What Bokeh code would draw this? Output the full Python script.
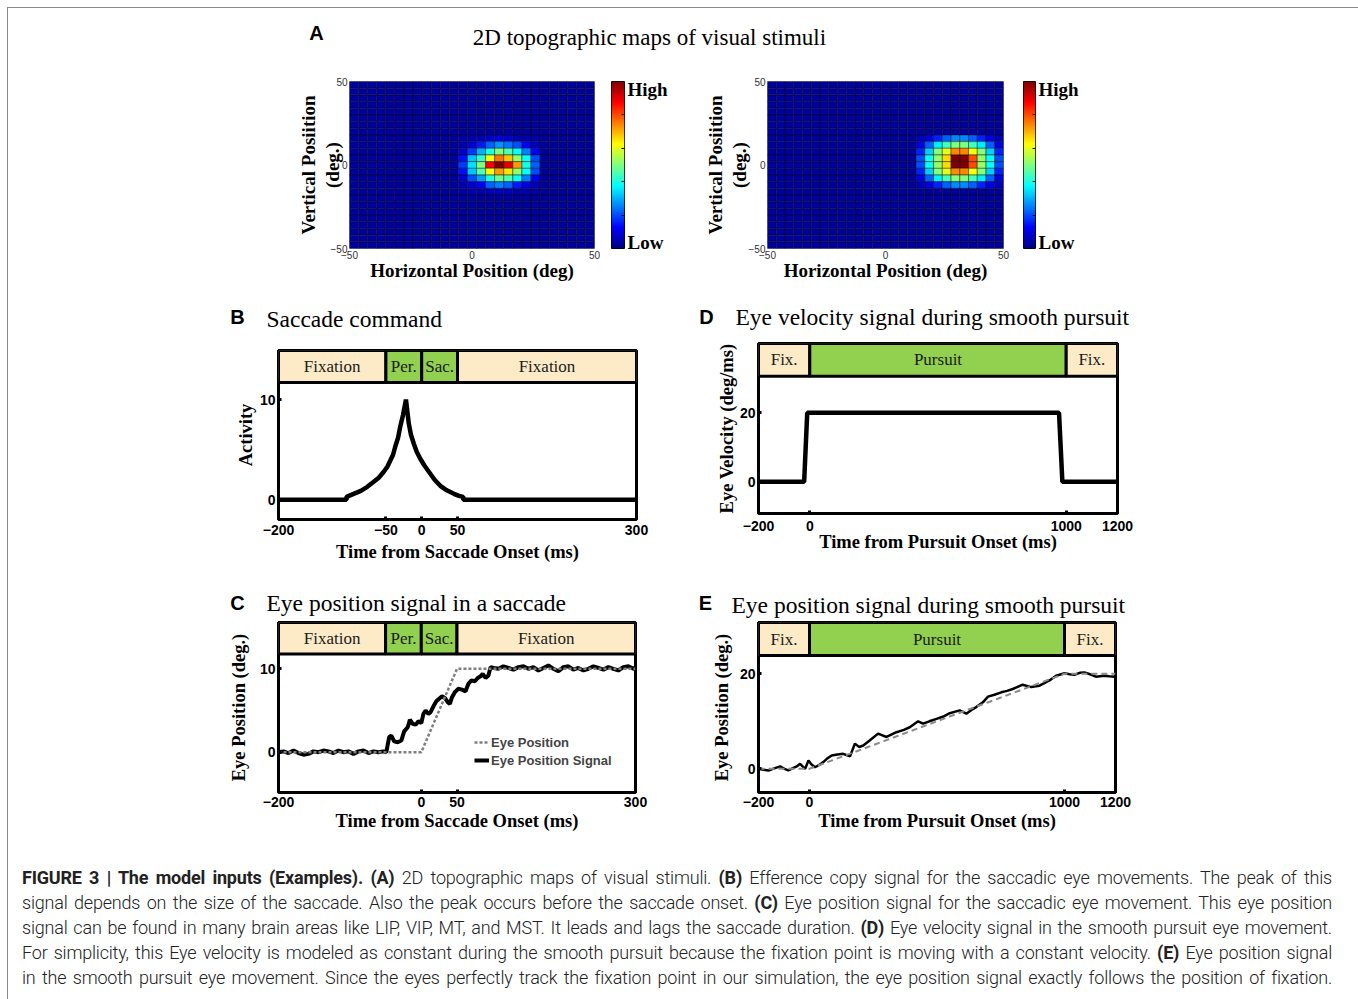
import numpy as np
from bokeh.plotting import figure
from bokeh.models import (Range1d, FixedTicker, Label, Legend, LegendItem,
                          LinearColorMapper, ColumnDataSource, Spacer, Div)
from bokeh.layouts import row, column
from bokeh.transform import transform
from bokeh.core.properties import value
from bokeh.embed import file_html
from bokeh.resources import INLINE

SERIF = "Liberation Serif"
SANS = "Liberation Sans"

# ---------------- data ----------------
map_cols = 27
map_rows = 25
map_background = 0.03
map_ticks = [-50, 0, 50]

left_blob = [
    [0.05, 0.05, 0.06, 0.08, 0.10, 0.08, 0.06, 0.05, 0.05],
    [0.05, 0.08, 0.15, 0.22, 0.27, 0.24, 0.20, 0.12, 0.06],
    [0.08, 0.18, 0.30, 0.40, 0.50, 0.45, 0.38, 0.25, 0.12],
    [0.14, 0.32, 0.42, 0.62, 0.76, 0.68, 0.52, 0.38, 0.20],
    [0.18, 0.35, 0.50, 0.88, 1.00, 0.90, 0.72, 0.40, 0.22],
    [0.14, 0.32, 0.45, 0.62, 0.72, 0.65, 0.52, 0.38, 0.20],
    [0.08, 0.20, 0.28, 0.40, 0.48, 0.45, 0.38, 0.25, 0.12],
    [0.05, 0.08, 0.12, 0.22, 0.25, 0.22, 0.15, 0.10, 0.06],
    [0.04, 0.05, 0.05, 0.06, 0.07, 0.06, 0.05, 0.05, 0.04],
]
left_blob_row0 = 8
left_blob_col0 = 12

right_blob = [
    [0.06, 0.10, 0.16, 0.22, 0.26, 0.26, 0.22, 0.16, 0.10, 0.06],
    [0.10, 0.22, 0.36, 0.44, 0.50, 0.50, 0.44, 0.36, 0.22, 0.10],
    [0.16, 0.33, 0.50, 0.60, 0.74, 0.74, 0.62, 0.50, 0.33, 0.16],
    [0.20, 0.38, 0.52, 0.66, 1.00, 1.00, 0.80, 0.52, 0.38, 0.20],
    [0.20, 0.38, 0.52, 0.66, 1.00, 1.00, 0.80, 0.52, 0.38, 0.20],
    [0.16, 0.33, 0.50, 0.60, 0.74, 0.74, 0.62, 0.50, 0.33, 0.16],
    [0.10, 0.22, 0.36, 0.44, 0.50, 0.50, 0.44, 0.36, 0.22, 0.10],
    [0.06, 0.10, 0.16, 0.22, 0.26, 0.26, 0.22, 0.16, 0.10, 0.06],
]
right_blob_row0 = 8
right_blob_col0 = 17

# phases
sac_phase_labels = ["Fixation", "Per.", "Sac.", "Fixation"]
sac_phase_start = [-200, -50, 0, 50]
sac_phase_end = [-50, 0, 50, 300]
sac_phase_kind = ["fix", "act", "act", "fix"]

pur_phase_labels = ["Fix.", "Pursuit", "Fix."]
pur_phase_start = [-200, 0, 1000]
pur_phase_end = [0, 1000, 1200]
pur_phase_kind = ["fix", "act", "fix"]

# B: saccade command
b_t = [-200, -105, -105, -95, -85, -76, -67, -60, -53, -48, -44, -40, -37, -33, -30, -26,
       -22, -18, -15, -11, -7, -2, 4, 10, 18, 26, 35, 45, 52, 58, 58, 300]
b_act = [0, 0, 0.3, 0.6, 0.9, 1.3, 1.8, 2.2, 2.8, 3.3, 3.9, 4.5, 5.3, 6.2, 7.3, 8.5,
         10.0, 7.6, 6.5, 5.6, 4.8, 4.1, 3.4, 2.8, 2.0, 1.4, 0.95, 0.6, 0.4, 0.3, 0, 0]

# C: eye position in a saccade
c_pos_t = [-200, 0, 50, 300]
c_pos = [0, 0, 10, 10]
c_sig_t = [-200, -193, -186, -179, -172, -165, -158, -151, -144, -137, -130, -123, -116,
           -109, -102, -95, -88, -81, -74, -67, -60, -53, -49,
           -47, -45, -42, -38, -33, -28, -24, -19, -16, -12, -8, -4, 0, 3, 6, 10, 13, 17,
           21, 25, 29, 33, 37, 40, 43, 47, 52, 57, 62, 66, 70, 75, 79, 83, 86, 90, 94, 97, 102,
           108, 115, 122, 129, 136, 143, 150, 157, 164, 171, 178, 185, 192, 199, 206, 213,
           220, 227, 234, 241, 248, 255, 262, 269, 276, 283, 290, 297, 300]
c_sig = [0.0, 0.1, -0.1, 0.2, -0.1, -0.3, -0.2, 0.1, 0.0, 0.2, 0.1, -0.1, 0.2,
         0.0, 0.1, -0.2, 0.1, 0.2, -0.1, 0.1, 0.0, 0.1, 0.0,
         0.9, 1.8, 2.0, 1.3, 1.2, 1.4, 2.5, 3.0, 3.9, 3.4, 3.3, 3.7, 3.5, 4.6, 5.0, 4.6, 4.8, 5.5,
         6.1, 6.4, 6.7, 6.5, 6.0, 5.8, 6.6, 7.2, 7.6, 7.5, 7.3, 8.2, 8.6, 8.5, 8.9, 9.1, 9.4, 8.9, 9.2, 10.2, 10.1,
         10.0, 10.3, 10.1, 9.9, 10.2, 10.3, 10.0, 10.2, 9.8, 10.1, 10.4, 10.0, 9.7, 10.2, 10.3,
         9.9, 10.1, 9.8, 10.0, 10.3, 10.1, 9.9, 10.2, 10.0, 9.8, 10.2, 10.3, 10.0, 10.1]

# D: eye velocity during pursuit
d_t = [-200, -22, -10, 972, 985, 1200]
d_vel = [0, 0, 20, 20, 0, 0]

# E: eye position during pursuit
e_pos_t = [-200, 0, 1000, 1200]
e_pos = [0, 0, 20, 20]
e_sig_t = [-200, -180, -161, -138, -115, -98, -83, -63, -50, -37, -17, -4, 8, 22, 38, 54, 70,
           87, 110, 132, 159, 178, 195, 211, 237, 269, 302, 341, 370, 393, 426, 445, 470, 498,
           525, 550, 589, 615, 635, 654, 680, 700, 725, 752, 775, 797, 836, 869, 902, 941, 967,
           1000, 1020, 1039, 1060, 1078, 1100, 1123, 1156, 1175, 1195, 1200]
e_sig = [0.0, -0.2, -0.35, 0.1, 0.5, 0.0, -0.35, 0.2, 0.5, 1.05, 0.0, 1.75, 0.9, 0.35, 0.8, 1.4, 2.2,
         2.8, 3.0, 3.15, 2.65, 5.3, 4.6, 4.9, 6.0, 7.4, 6.7, 7.7, 8.2, 8.75, 10.0, 9.5, 10.0, 10.5,
         11.0, 11.7, 12.3, 11.6, 12.4, 13.0, 14.0, 15.2, 15.6, 16.1, 16.4, 16.8, 17.7, 17.2, 17.5, 18.6, 19.6,
         20.1, 19.9, 19.8, 20.2, 20.3, 19.9, 19.4, 19.6, 19.5, 19.4, 19.5]

B_ = '<span style="font-weight:700">'
_B = '</span>'
caption_lines = [
    B_ + "FIGURE 3 | The model inputs (Examples). (A)" + _B + " 2D topographic maps of visual stimuli. "
    + B_ + "(B)" + _B + " Efference copy signal for the saccadic eye movements. The peak of this",
    "signal depends on the size of the saccade. Also the peak occurs before the saccade onset. "
    + B_ + "(C)" + _B + " Eye position signal for the saccadic eye movement. This eye position",
    "signal can be found in many brain areas like LIP, VIP, MT, and MST. It leads and lags the "
    "saccade duration. " + B_ + "(D)" + _B + " Eye velocity signal in the smooth pursuit eye movement.",
    "For simplicity, this Eye velocity is modeled as constant during the smooth pursuit because "
    "the fixation point is moving with a constant velocity. " + B_ + "(E)" + _B + " Eye position signal",
    "in the smooth pursuit eye movement. Since the eyes perfectly track the fixation point in "
    "our simulation, the eye position signal exactly follows the position of fixation.",
]

FIX_COLOR = "#FDEBC8"
ACT_COLOR = "#92D050"
FULL_W = 1346


# ---------------- helpers ----------------
def jet(v):
    r = min(max(1.5 - abs(4 * v - 3), 0), 1)
    g = min(max(1.5 - abs(4 * v - 2), 0), 1)
    b = min(max(1.5 - abs(4 * v - 1), 0), 1)
    return "#%02x%02x%02x" % (int(r * 255), int(g * 255), int(b * 255))


JET = [jet(i / 255) for i in range(256)]
mapper = LinearColorMapper(palette=JET, low=0, high=1)


def lab(p, fl, fb, X, Y, text, size, font=SERIF, style="normal", align="left", angle=0.0):
    p.add_layout(Label(x=X - fl, y=fb - Y, x_units="screen", y_units="screen", text=text,
                       text_font=font, text_font_size=size, text_font_style=style,
                       text_align=align, text_baseline="middle", angle=angle,
                       text_color="black"))


def strip(height, fb, items):
    p = figure(width=FULL_W, height=height, x_range=Range1d(0, 1), y_range=Range1d(0, 1),
               x_axis_type=None, y_axis_type=None, min_border=0, outline_line_color=None,
               toolbar_location=None, output_backend="svg")
    p.grid.visible = False
    for (X, Y, text, size, font, style, align) in items:
        lab(p, 8, fb, X, Y, text, size, font=font, style=style, align=align)
    return p


def grid_source(blob, r0, c0):
    m = np.full((map_rows, map_cols), map_background)
    b = np.array(blob)
    m[r0:r0 + b.shape[0], c0:c0 + b.shape[1]] = b
    xe = np.linspace(-50, 50, map_cols + 1)
    ye = np.linspace(50, -50, map_rows + 1)
    L, R, T, B, V = [], [], [], [], []
    for r in range(map_rows):
        for c in range(map_cols):
            L.append(xe[c]); R.append(xe[c + 1]); T.append(ye[r]); B.append(ye[r + 1])
            V.append(float(m[r, c]))
    return ColumnDataSource(dict(left=L, right=R, top=T, bottom=B, v=V))


def heat_fig(src, width, mbl, mbr, ylab_standoff):
    p = figure(width=width, height=250, x_range=Range1d(-50, 50), y_range=Range1d(-50, 50),
               min_border_left=mbl, min_border_right=mbr, min_border_top=31,
               min_border_bottom=52, toolbar_location=None, output_backend="svg")
    p.quad(left="left", right="right", top="top", bottom="bottom", source=src,
           fill_color=transform("v", mapper), line_color="black", line_width=0.7,
           line_alpha=0.6)
    p.grid.visible = False
    p.outline_line_color = "#888888"
    for ax in (p.xaxis[0], p.yaxis[0]):
        ax.ticker = FixedTicker(ticks=map_ticks)
        ax.major_tick_in = 0
        ax.major_tick_out = 0
        ax.minor_tick_line_color = None
        ax.axis_line_color = None
        ax.major_label_text_font = SANS
        ax.major_label_text_font_size = "10px"
        ax.major_label_text_color = "#333333"
        ax.major_label_standoff = 2
        ax.axis_label_text_font = SERIF
        ax.axis_label_text_font_style = "bold"
        ax.axis_label_text_font_size = "19px"
        ax.axis_label_text_color = "black"
    p.xaxis.axis_label = "Horizontal Position (deg)"
    p.xaxis.axis_label_standoff = -2
    p.yaxis.axis_label = "Vertical Posiition\n(deg.)"
    p.yaxis.axis_label_text_line_height = 1.1
    p.yaxis.axis_label_standoff = ylab_standoff
    return p


def cbar_fig(width, mbl, fw):
    p = figure(width=width, height=250, x_range=Range1d(0, 1), y_range=Range1d(0, 1),
               min_border_left=mbl, min_border_right=width - mbl - fw, min_border_top=31,
               min_border_bottom=52, x_axis_type=None, y_axis_location="right",
               toolbar_location=None, output_backend="svg")
    grad = np.linspace(0, 1, 256).reshape(256, 1)
    p.image(image=[grad], x=0, y=0, dw=1, dh=1, color_mapper=mapper)
    p.grid.visible = False
    p.outline_line_color = "black"
    ax = p.yaxis[0]
    ax.ticker = FixedTicker(ticks=[0.035, 0.952], minor_ticks=[0.2, 0.4, 0.6, 0.8])
    ax.major_label_overrides = {0.035: "Low", 0.952: "High"}
    ax.major_tick_in = 0
    ax.major_tick_out = 0
    ax.minor_tick_in = 3
    ax.minor_tick_out = 0
    ax.minor_tick_line_color = "black"
    ax.axis_line_color = None
    ax.major_label_standoff = 3
    ax.major_label_text_font = SERIF
    ax.major_label_text_font_style = "bold"
    ax.major_label_text_font_size = "19px"
    ax.major_label_text_color = "black"
    return p


def line_fig(width, height, mbl, mbr, mbt, mbb, xr, yr, xticks, yticks, xlabel, ylabel,
             xstand, xls, yls):
    p = figure(width=width, height=height, x_range=Range1d(*xr), y_range=Range1d(*yr),
               min_border_left=mbl, min_border_right=mbr, min_border_top=mbt,
               min_border_bottom=mbb, toolbar_location=None, output_backend="svg")
    p.grid.visible = False
    p.outline_line_color = "black"
    p.outline_line_width = 3
    p.xaxis.ticker = FixedTicker(ticks=xticks)
    p.yaxis.ticker = FixedTicker(ticks=yticks)
    for ax in (p.xaxis[0], p.yaxis[0]):
        ax.axis_line_color = None
        ax.major_tick_in = 3
        ax.major_tick_out = 0
        ax.major_tick_line_width = 3
        ax.minor_tick_line_color = None
        ax.major_label_text_font = SANS
        ax.major_label_text_font_style = "bold"
        ax.major_label_text_font_size = "14px"
        ax.major_label_text_color = "black"
        ax.major_label_standoff = 3
        ax.axis_label_text_font = SERIF
        ax.axis_label_text_font_style = "bold"
        ax.axis_label_text_font_size = "18.5px"
        ax.axis_label_text_color = "black"
    p.xaxis.major_label_standoff = xstand
    p.xaxis.axis_label = xlabel
    p.yaxis.axis_label = ylabel
    p.xaxis.axis_label_standoff = xls
    p.yaxis.axis_label_standoff = yls
    return p


def add_phases(p, starts, ends, labels, kinds, bottom, top):
    src = ColumnDataSource(dict(
        left=starts, right=ends, label=labels,
        color=[FIX_COLOR if k == "fix" else ACT_COLOR for k in kinds],
        mid=[(a + b) / 2 for a, b in zip(starts, ends)]))
    p.quad(left="left", right="right", bottom=bottom, top=top, fill_color="color",
           line_color="black", line_width=3, source=src)
    p.text(x="mid", y=(bottom + top) / 2, text="label", source=src, text_align="center",
           text_baseline="middle", text_font=value(SERIF), text_font_size="17px",
           text_color="#1a1a1a")


# ---------------- panel A ----------------
stripA = strip(42, 50, [
    (316, 32, "A", "20px", SANS, "bold", "center"),
    (649, 37, "2D topographic maps of visual stimuli", "23px", SERIF, "normal", "center"),
])
figA1 = heat_fig(grid_source(left_blob, left_blob_row0, left_blob_col0), 330, 79, 6, -15)
cb1 = cbar_fig(90, 11, 13)
figA2 = heat_fig(grid_source(right_blob, right_blob_row0, right_blob_col0), 320, 77, 7, -4)
cb2 = cbar_fig(100, 13, 12)

# ---------------- row B / D ----------------
stripBD = strip(38, 338, [
    (237, 316, "B", "20px", SANS, "bold", "center"),
    (266, 318, "Saccade command", "23.5px", SERIF, "normal", "left"),
    (706, 316, "D", "20px", SANS, "bold", "center"),
    (735, 316, "Eye velocity signal during smooth pursuit", "23.5px", SERIF, "normal", "left"),
])

figB = line_fig(460, 237, 78, 24, 12, 56, (-200, 300), (-1.96, 14.9), [-200, -50, 0, 50, 300],
                [0, 10], "Time from Saccade Onset (ms)", "Activity", 5, 4, 1)
add_phases(figB, sac_phase_start, sac_phase_end, sac_phase_labels, sac_phase_kind, 11.7, 14.9)
figB.line(b_t, b_act, line_width=4.5, color="black")

figD = line_fig(470, 237, 78, 33, 5, 62, (-200, 1200), (-9.2, 40.1), [-200, 0, 1000, 1200],
                [0, 20], "Time from Pursuit Onset (ms)", "Eye Velocity (deg/ms)", 7, -2, 0)
add_phases(figD, pur_phase_start, pur_phase_end, pur_phase_labels, pur_phase_kind, 30.6, 40.1)
figD.line(d_t, d_vel, line_width=4.5, color="black")

# ---------------- row C / E ----------------
stripCE = strip(44, 619, [
    (237, 602, "C", "20px", SANS, "bold", "center"),
    (266, 602, "Eye position signal in a saccade", "23.5px", SERIF, "normal", "left"),
    (705, 602, "E", "20px", SANS, "bold", "center"),
    (731, 604, "Eye position signal during smooth pursuit", "23.5px", SERIF, "normal", "left"),
])

figC = line_fig(460, 221, 78, 25, 3, 48, (-200, 300), (-4.83, 15.55), [-200, 0, 50, 300],
                [0, 10], "Time from Saccade Onset (ms)", "Eye Position (deg.)", 4, 1, 8)
add_phases(figC, sac_phase_start, sac_phase_end, sac_phase_labels, sac_phase_kind, 11.76, 15.55)
r_sig = figC.line(c_sig_t, c_sig, line_width=4, color="black")
r_pos = figC.line(c_pos_t, c_pos, line_width=2.5, color="#7f7f7f", line_dash="3 2")
legC = Legend(items=[LegendItem(label="Eye Position", renderers=[r_pos]),
                     LegendItem(label="Eye Position Signal", renderers=[r_sig])],
              location=(196, 23), background_fill_alpha=0, border_line_alpha=0,
              label_text_font=SANS, label_text_font_style="bold", label_text_font_size="13px",
              glyph_width=15, glyph_height=18, label_height=18, label_standoff=2,
              spacing=0, padding=0, margin=0)
figC.add_layout(legC)

figE = line_fig(470, 221, 78, 35, 3, 48, (-200, 1200), (-4.99, 30.8), [-200, 0, 1000, 1200],
                [0, 20], "Time from Pursuit Onset (ms)", "Eye Position (deg.)", 4, 1, 5)
add_phases(figE, pur_phase_start, pur_phase_end, pur_phase_labels, pur_phase_kind, 23.85, 30.8)
figE.line(e_sig_t, e_sig, line_width=2.5, color="black")
figE.line(e_pos_t, e_pos, line_width=2, color="#8a8a8a", line_dash="6 4")

# ---------------- caption ----------------
lines_html = "".join(
    '<div style="white-space:nowrap;text-align:justify;text-align-last:justify;'
    'height:25px;line-height:25px;">%s</div>' % ln for ln in caption_lines)
caption = Div(text='<div style="font-family:Roboto,\'Liberation Sans\',sans-serif;font-size:18px;'
                   'font-weight:300;color:#222222;letter-spacing:-0.2px;box-sizing:border-box;'
                   'padding:20px 0 0 9px;width:1319px;">'
                   + lines_html + '</div>', width=FULL_W, height=150)

main = column(
    stripA,
    row(Spacer(width=262, height=250), figA1, cb1, figA2, cb2),
    stripBD,
    row(Spacer(width=192, height=237), column(figB), Spacer(width=20, height=237), column(figD)),
    stripCE,
    row(Spacer(width=192, height=221), column(figC), Spacer(width=20, height=221), column(figE)),
    caption,
    styles={"border-top": "1px solid #8a8a8a", "border-left": "1px solid #8a8a8a",
            "border-right": "2px solid #7f7f7f"},
)
layout = column(Spacer(width=10, height=7), row(Spacer(width=7, height=10), main))

with open("out.html", "w") as f:
    f.write(file_html(layout, INLINE))
